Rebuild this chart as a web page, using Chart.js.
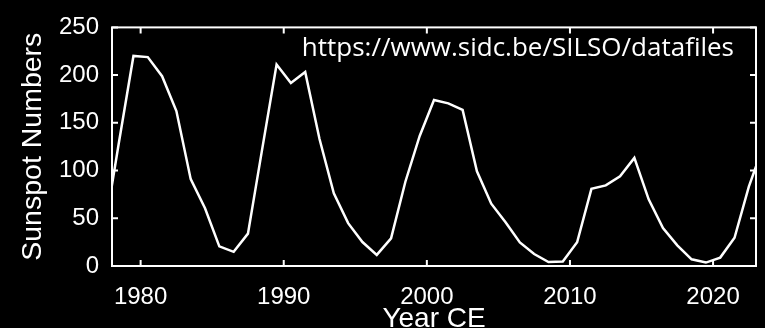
<!DOCTYPE html>
<html>
<head>
<meta charset="utf-8">
<title>Sunspot Numbers</title>
<script src="https://cdn.jsdelivr.net/npm/chart.js@4/dist/chart.umd.min.js"></script>
<style>
  html, body { margin: 0; padding: 0; background: #000; overflow: hidden; }
  #wrap { width: 765px; height: 328px; }
  canvas { display: block; }
</style>
</head>
<body>
<div id="wrap"><canvas id="chart" width="765" height="328"></canvas></div>
<script>
// Yearly mean total sunspot number (SILSO), plotted at mid-year
const years = [1977, 1978, 1979, 1980, 1981, 1982, 1983, 1984, 1985, 1986,
               1987, 1988, 1989, 1990, 1991, 1992, 1993, 1994, 1995, 1996,
               1997, 1998, 1999, 2000, 2001, 2002, 2003, 2004, 2005, 2006,
               2007, 2008, 2009, 2010, 2011, 2012, 2013, 2014, 2015, 2016,
               2017, 2018, 2019, 2020, 2021, 2022, 2023];
const sunspotNumbers = [39.3, 131.0, 220.1, 218.9, 198.9, 162.4, 91.0, 60.5, 20.6, 14.8,
                        33.9, 123.0, 211.1, 191.8, 203.3, 133.0, 76.1, 44.9, 25.1, 11.6,
                        28.9, 88.3, 136.3, 173.9, 170.4, 163.6, 99.3, 65.3, 45.8, 24.7,
                        12.6, 4.2, 4.8, 24.9, 80.8, 84.5, 94.0, 113.3, 69.8, 39.8,
                        21.7, 7.0, 3.6, 8.8, 29.6, 83.2, 125.5];
const xTickValues = [1980, 1990, 2000, 2010, 2020];
const yTickValues = [0, 50, 100, 150, 200, 250];
const xRange = [1978, 2023];
const yRange = [0, 250];
const xTitle = 'Year CE';
const yTitle = 'Sunspot Numbers';
const sourceNote = 'https://www.sidc.be/SILSO/datafiles';

const points = years.map((y, i) => ({ x: y + 0.5, y: sunspotNumbers[i] }));

// Black page, white boxed frame with inward ticks on all four sides
const framePlugin = {
  id: 'frame',
  beforeDraw(chart) {
    const ctx = chart.ctx;
    ctx.save();
    ctx.fillStyle = '#000';
    ctx.fillRect(0, 0, chart.width, chart.height);
    ctx.restore();
  },
  afterDatasetsDraw(chart) {
    const { ctx, chartArea: a, scales } = chart;
    const tick = 6;
    ctx.save();
    ctx.strokeStyle = '#fff';
    ctx.lineWidth = 2;
    ctx.strokeRect(a.left, a.top, a.right - a.left, a.bottom - a.top);
    ctx.beginPath();
    xTickValues.forEach(v => {
      const px = scales.x.getPixelForValue(v);
      ctx.moveTo(px, a.bottom); ctx.lineTo(px, a.bottom - tick);
      ctx.moveTo(px, a.top); ctx.lineTo(px, a.top + tick);
    });
    yTickValues.forEach(v => {
      const py = scales.y.getPixelForValue(v);
      ctx.moveTo(a.left, py); ctx.lineTo(a.left + tick, py);
      ctx.moveTo(a.right, py); ctx.lineTo(a.right - tick, py);
    });
    ctx.stroke();

    // data source note, upper right inside the frame
    ctx.fillStyle = '#fff';
    ctx.font = '26px "Open Sans"';
    ctx.textAlign = 'right';
    ctx.textBaseline = 'alphabetic';
    ctx.fillText(sourceNote, a.right - 22, a.top + 28.5);
    ctx.restore();
  }
};

new Chart(document.getElementById('chart'), {
  type: 'line',
  data: {
    datasets: [{
      data: points,
      borderColor: '#fff',
      borderWidth: 2.5,
      pointRadius: 0,
      tension: 0,
      fill: false,
      clip: 0
    }]
  },
  options: {
    responsive: false,
    devicePixelRatio: 1,
    animation: false,
    events: [],
    layout: { padding: { top: 18, right: 9, left: 0, bottom: 0 } },
    plugins: { legend: { display: false }, tooltip: { enabled: false } },
    scales: {
      x: {
        type: 'linear',
        min: xRange[0],
        max: xRange[1],
        border: { display: false },
        grid: { display: false, drawTicks: false },
        afterBuildTicks(scale) { scale.ticks = xTickValues.map(v => ({ value: v })); },
        afterFit(scale) { scale.height = 62; },
        ticks: {
          color: '#fff',
          padding: 17,
          maxRotation: 0,
          font: { family: '"Liberation Sans", Arial, sans-serif', size: 24 },
          callback: v => String(v)
        },
        title: {
          display: true,
          text: xTitle,
          color: '#fff',
          padding: { top: 0, bottom: 0 },
          font: { family: '"Liberation Sans", Arial, sans-serif', size: 28, lineHeight: 0.62 }
        }
      },
      y: {
        min: yRange[0],
        max: yRange[1],
        border: { display: false },
        grid: { display: false, drawTicks: false },
        afterBuildTicks(scale) { scale.ticks = yTickValues.map(v => ({ value: v })); },
        afterFit(scale) { scale.width = 112; },
        ticks: {
          color: '#fff',
          padding: 13,
          font: { family: '"Liberation Sans", Arial, sans-serif', size: 24 }
        },
        title: {
          display: true,
          text: yTitle,
          color: '#fff',
          padding: { top: 16.5, bottom: 0 },
          font: { family: '"Liberation Sans", Arial, sans-serif', size: 28.5, lineHeight: 1.2 }
        }
      }
    }
  },
  plugins: [framePlugin]
});
</script>
</body>
</html>
